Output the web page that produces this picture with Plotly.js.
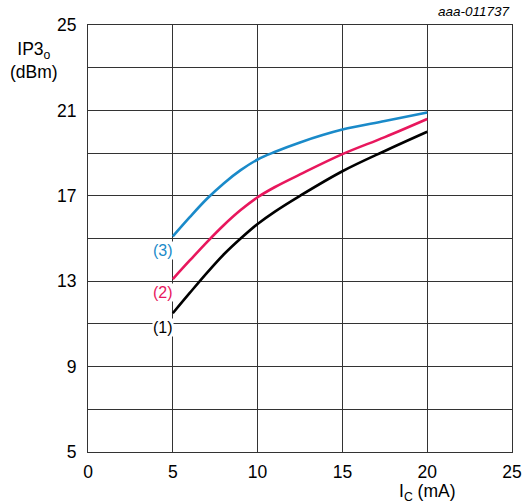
<!DOCTYPE html>
<html>
<head>
<meta charset="utf-8">
<script src="https://cdn.plot.ly/plotly-3.0.1.min.js"></script>
<style>html,body{margin:0;padding:0;background:#fff;}#chart{width:525px;height:504px;}</style>
</head>
<body>
<div id="chart"></div>
<script>
const icValues = [5, 6, 7, 8, 9, 10, 11, 12.5, 15, 17.5, 20];
const curve1 = [11.5, 12.45, 13.38, 14.25, 15.0, 15.68, 16.25, 17.0, 18.15, 19.1, 20.0];
const curve2 = [13.1, 13.97, 14.82, 15.62, 16.33, 16.93, 17.4, 18.0, 18.95, 19.75, 20.6];
const curve3 = [15.1, 16.0, 16.85, 17.58, 18.2, 18.7, 19.05, 19.5, 20.1, 20.5, 20.9];
const curveNames = ["(1)", "(2)", "(3)"];
const curveColors = ["#000000", "#e8175d", "#1a8ac9"];
const labelY = [10.85, 12.45, 14.45];
const labelX = 4.4;
const xTickVals = [0, 5, 10, 15, 20, 25];
const yTickVals = [5, 9, 13, 17, 21, 25];
const yMinorVals = [7, 11, 15, 19, 23];

const series = [curve1, curve2, curve3];
const traces = series.map((ys, i) => ({
  x: icValues, y: ys, type: "scatter", mode: "lines",
  line: {color: curveColors[i], width: 2.6, shape: "spline", smoothing: 1},
  name: curveNames[i], hoverinfo: "skip"
}));

const font = {family: "Liberation Sans, Arial, sans-serif", size: 17.5, color: "#000"};
const annotations = curveNames.map((t, i) => ({
  x: labelX, y: labelY[i], xref: "x", yref: "y", text: t, showarrow: false,
  font: {family: font.family, size: 16, color: curveColors[i]},
  bgcolor: "#ffffff", borderpad: 0
}));
annotations.push({
  xref: "paper", yref: "paper", x: -0.127, y: 0.918, xanchor: "center", yanchor: "middle",
  text: "IP3<sub>o</sub><br>(dBm)",
  showarrow: false, align: "center", font: font
});
annotations.push({
  xref: "x", yref: "paper", x: 20, y: -0.094, xanchor: "center", yanchor: "middle",
  text: "I<sub>C</sub> (mA)",
  showarrow: false, font: font
});
annotations.push({
  xref: "paper", yref: "paper", x: 1.0, y: 1.031, xanchor: "right", yanchor: "middle",
  text: "<i>aaa-011737</i>",
  showarrow: false, font: {family: font.family, size: 13.5, color: "#000"}
});

const gridColor = "#333333";
const layout = {
  width: 525, height: 504,
  margin: {l: 88, r: 13, t: 25, b: 52},
  paper_bgcolor: "#fff", plot_bgcolor: "#fff",
  showlegend: false,
  font: font,
  xaxis: {
    range: [0, 25], tickmode: "array", tickvals: xTickVals, ticks: "", showgrid: true, gridcolor: gridColor, gridwidth: 1,
    showline: true, linecolor: gridColor, linewidth: 1, mirror: true, zeroline: false,
    ticklabelstandoff: 4, tickfont: font, fixedrange: true
  },
  yaxis: {
    range: [5, 25], tickmode: "array", tickvals: yTickVals, ticks: "", showgrid: true, gridcolor: gridColor, gridwidth: 1,
    minor: {tickmode: "array", tickvals: yMinorVals, showgrid: true, gridcolor: gridColor, gridwidth: 1, ticks: ""},
    showline: true, linecolor: gridColor, linewidth: 1, mirror: true, zeroline: false,
    ticklabelstandoff: 7, tickfont: font, fixedrange: true
  },
  annotations: annotations
};
Plotly.newPlot("chart", traces, layout, {displayModeBar: false, staticPlot: true});
</script>
</body>
</html>
